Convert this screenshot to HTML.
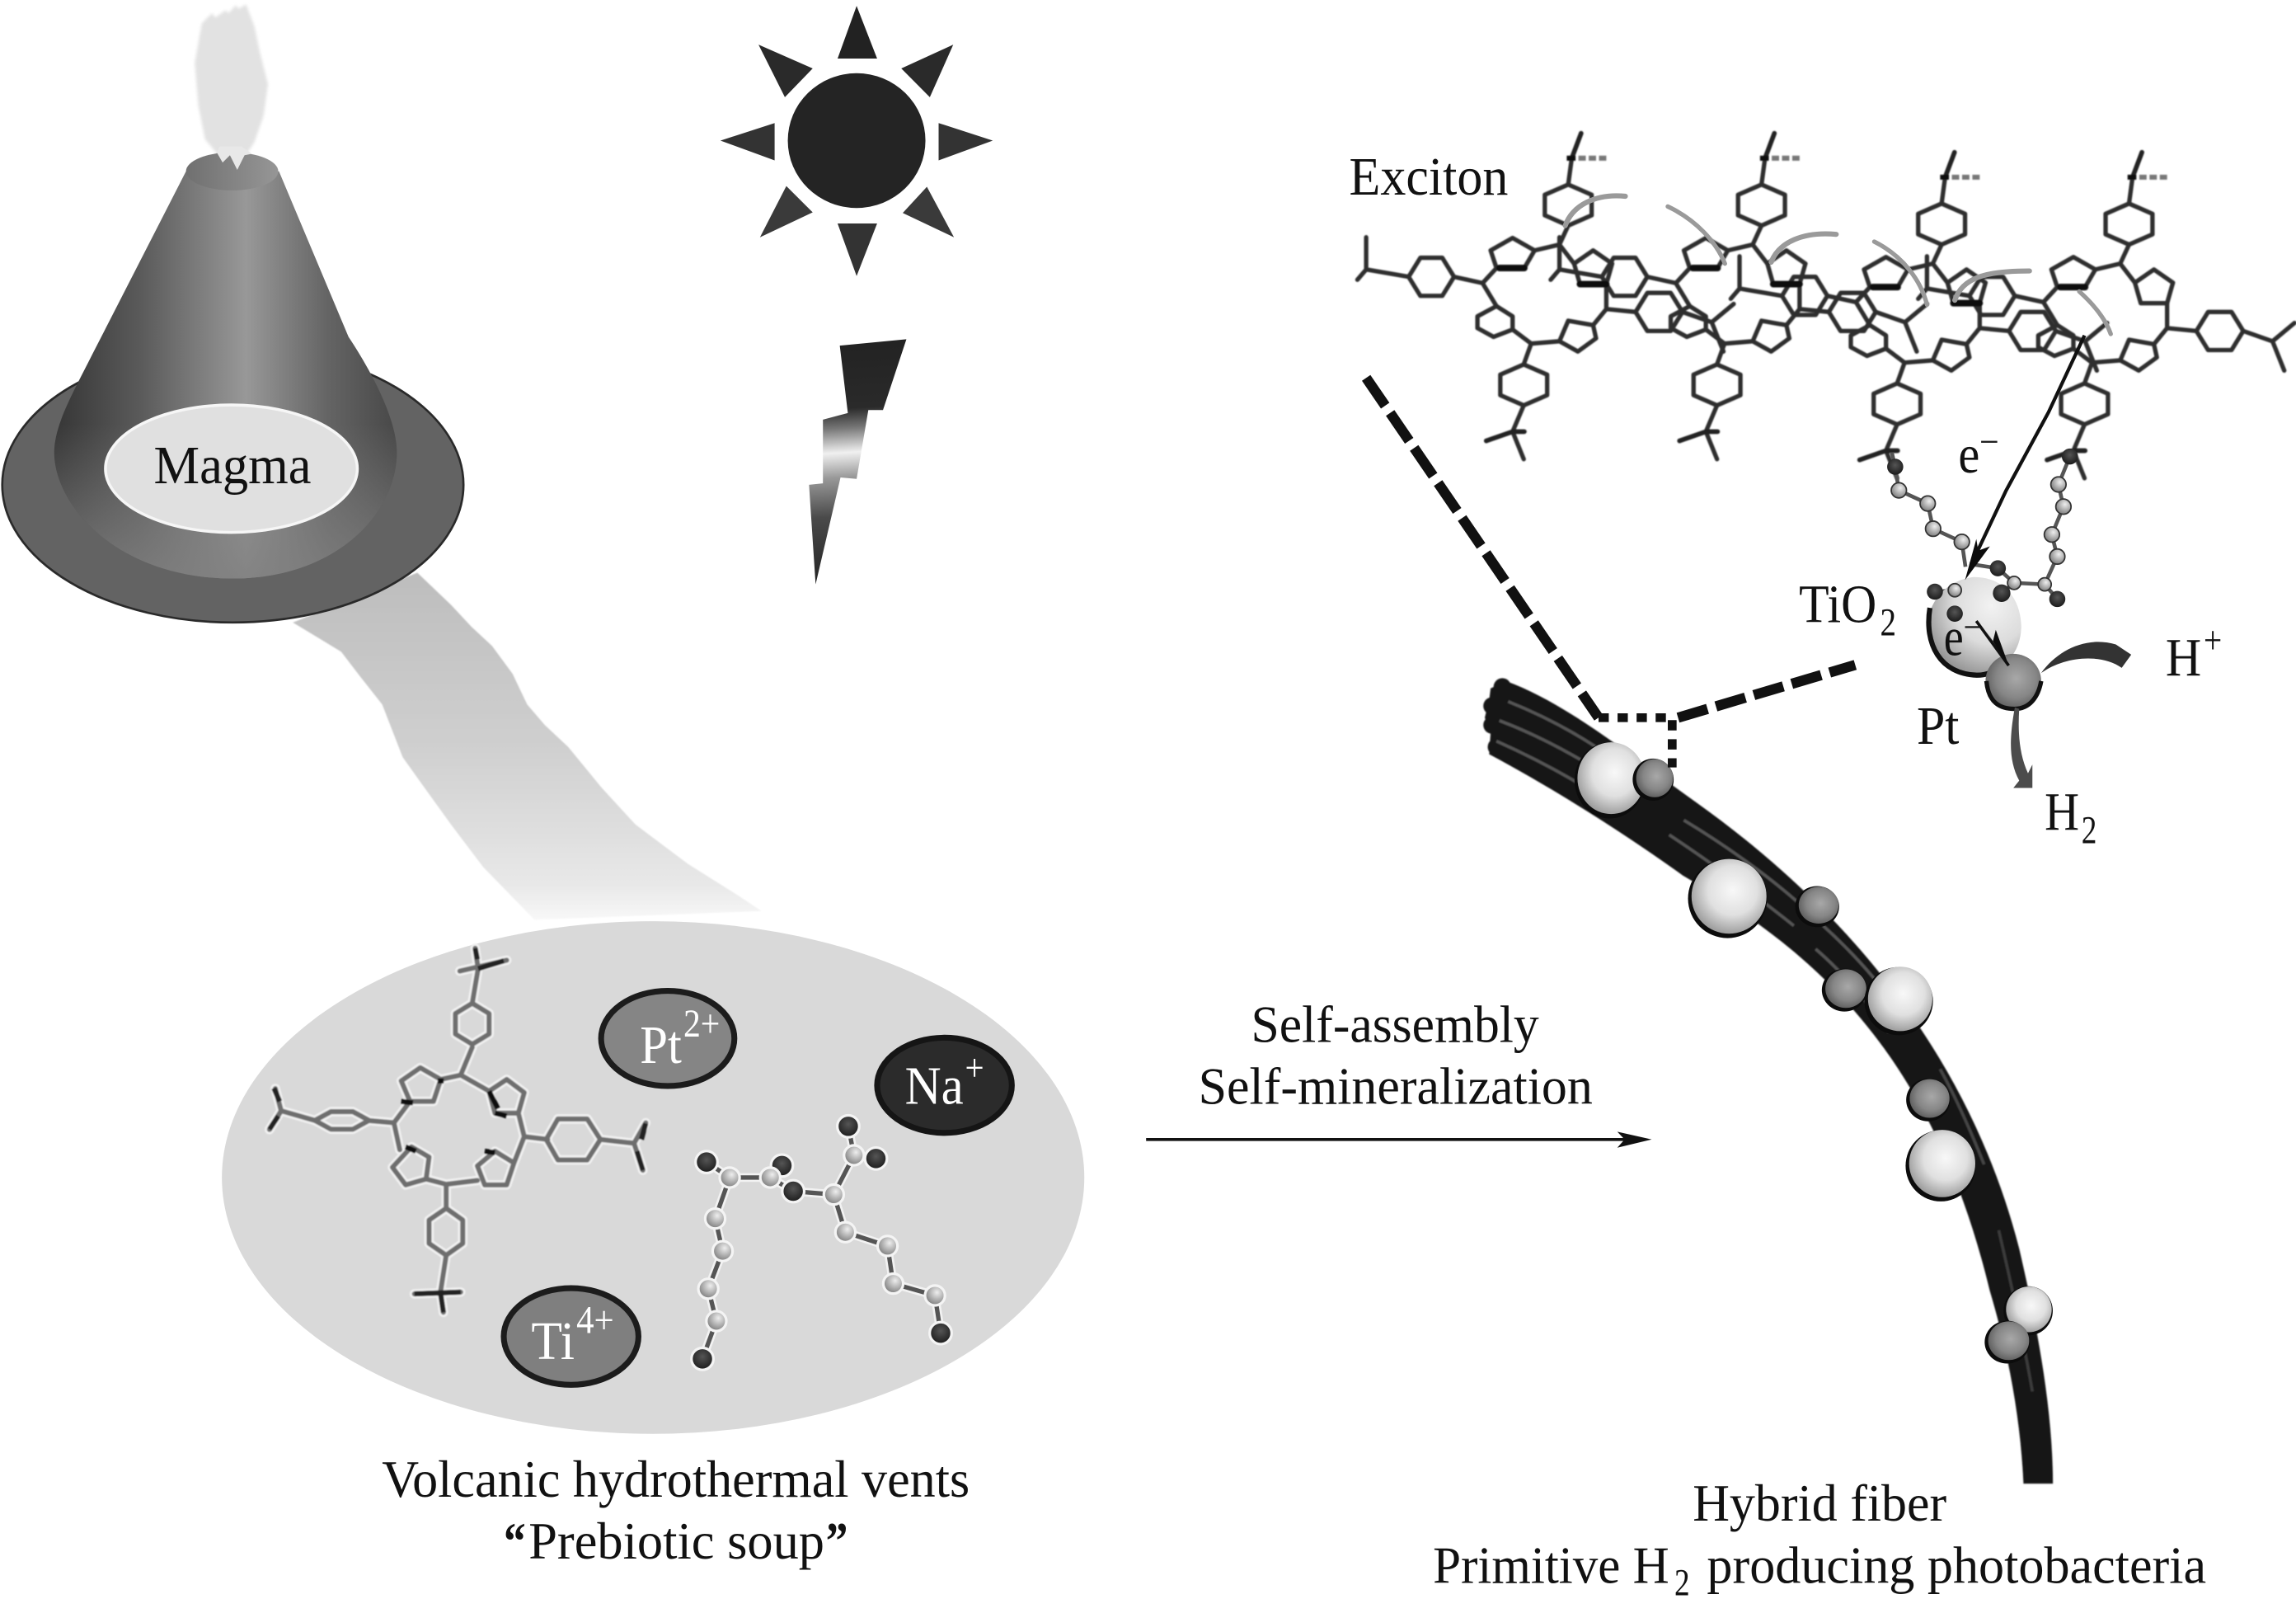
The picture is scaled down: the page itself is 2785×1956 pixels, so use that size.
<!DOCTYPE html>
<html><head><meta charset="utf-8"><title>Hybrid fiber diagram</title>
<style>html,body{margin:0;padding:0;background:#fff}svg{display:block}text{font-family:"Liberation Serif",serif;fill:#111}</style></head>
<body>
<svg xmlns="http://www.w3.org/2000/svg" width="2785" height="1956" viewBox="0 0 1568 1101.3">
<defs>
<filter id="soft" x="-5%" y="-5%" width="110%" height="110%"><feGaussianBlur stdDeviation="0.45"/></filter>
<filter id="soft2" x="-5%" y="-5%" width="110%" height="110%"><feGaussianBlur stdDeviation="1"/></filter>
<linearGradient id="cone" x1="0" x2="1" y1="0" y2="0"><stop offset="0" stop-color="#363636"/><stop offset=".25" stop-color="#5a5a5a"/><stop offset=".56" stop-color="#989898"/><stop offset=".8" stop-color="#646464"/><stop offset="1" stop-color="#484848"/></linearGradient>
<linearGradient id="hem" x1="0" x2="0" y1="0" y2="1"><stop offset="0" stop-color="#808080" stop-opacity="0"/><stop offset=".62" stop-color="#808080" stop-opacity="0"/><stop offset="1" stop-color="#808080" stop-opacity=".85"/></linearGradient>
<linearGradient id="top" x1="0" x2="1" y1="0" y2="0"><stop offset="0" stop-color="#707070"/><stop offset="1" stop-color="#969696"/></linearGradient>
<linearGradient id="stream" x1="0" x2="0" y1="0" y2="1"><stop offset="0" stop-color="#bdbdbd"/><stop offset=".5" stop-color="#cfcfcf"/><stop offset=".9" stop-color="#e8e8e8"/><stop offset="1" stop-color="#f8f8f8"/></linearGradient>
<linearGradient id="bolt" gradientUnits="userSpaceOnUse" x1="575" x2="585" y1="232" y2="399"><stop offset="0" stop-color="#222"/><stop offset=".28" stop-color="#2a2a2a"/><stop offset=".36" stop-color="#777"/><stop offset=".46" stop-color="#f0f0f0"/><stop offset=".56" stop-color="#999"/><stop offset=".72" stop-color="#4a4a4a"/><stop offset="1" stop-color="#222"/></linearGradient>
<radialGradient id="w" cx=".55" cy=".42" r=".6"><stop offset="0" stop-color="#f8f8f8"/><stop offset=".55" stop-color="#e0e0e0"/><stop offset="1" stop-color="#9a9a9a"/></radialGradient>
<radialGradient id="g" cx=".55" cy=".45" r=".6"><stop offset="0" stop-color="#a8a8a8"/><stop offset=".6" stop-color="#868686"/><stop offset="1" stop-color="#5a5a5a"/></radialGradient>
<radialGradient id="ti" cx=".68" cy=".3" r=".8"><stop offset="0" stop-color="#f2f2f2"/><stop offset=".5" stop-color="#dcdcdc"/><stop offset="1" stop-color="#8a8a8a"/></radialGradient>
<radialGradient id="s" cx=".6" cy=".35" r=".7"><stop offset="0" stop-color="#eee"/><stop offset="1" stop-color="#777"/></radialGradient>
<radialGradient id="d" cx=".5" cy=".4" r=".7"><stop offset="0" stop-color="#555"/><stop offset="1" stop-color="#111"/></radialGradient>

<g id="p" fill="none" stroke-linejoin="round" stroke-linecap="round">
<polygon points="16,-74 32,-67 32,-53 16,-46 0,-53 0,-67"/>
<polygon points="-14.4,48.8 1.6,55.8 1.6,69.8 -14.4,76.8 -30.4,69.8 -30.4,55.8"/>
<polygon points="-93,-11 -85,-24 -70,-24 -62,-11 -70,2 -85,2"/>
<polygon points="62,13 70,0 86,0 94,13 86,26 70,26"/>
<polygon points="-22,-37.5 -7,-29 -14,-17 -33,-17 -37,-29"/>
<polygon points="33,-29 46,-20 42,-6 24,-6 20,-20"/>
<polygon points="-33,9 -22,16 -22,25 -35,30 -46,24 -46,16"/>
<polygon points="16,19 33,22 35,31 22.6,40 10,33"/>
<path d="M-7,-29L10,-33L20,-20M10,-33L16,-46M-33,-17L-42.5,-6.7L-33,9M-42.5,-6.7L-62,-11M-22,25L-9.3,34.6L10,33M-9.3,34.6L-14.4,48.8M42,-6L42,11L33,22M42,11L62,13"/>
<path d="M16,-74L18.4,-92L24.8,-109M-93,-11L-122,-16L-122,-38M-122,-16L-128,-9M-14.4,76.8L-22,94.7L-14.4,113.5M-40,101L-22,94.7L-14,94.7M94,13L114,20L129,7.5M114,20L122,40"/>
</g>
<g id="soup" fill="none" stroke-linejoin="round" stroke-linecap="round">
<polygon points="287,729 301,737 296,752 280,752 274,738"/>
<polygon points="346,737 358,746 354,760 338,760 334,745"/>
<polygon points="281,783 293,790 291,805 277,809 268,797"/>
<polygon points="338,786 351,794 346,809 331,809 326,796"/>
<path d="M301,737L314.6,734L334,745M314.6,734L322.5,715M280,752L269,766.6L273,785M269,766.6L251,765M354,760L358,776L351,794M358,776L374,778M291,805L304.7,808.6L326,806M304.7,808.6L304.7,824"/>
<polygon points="322.5,685 334,692 334,706 322.5,713 311,706 311,692"/>
<polygon points="215,765 226,759 241,759 252,765 241,771 226,771"/>
<polygon points="373,778 381,764 401,764 410,778 401,792 381,792"/>
<polygon points="304.7,825 316,833 316,849 304.7,857 293,849 293,833"/>
<path d="M322.5,685L326.5,661.4L324.5,647.4M314,663L346,655.6M215,765L192,758.4L188,743.2M192,758.4L184,771.2M410,778L433,780.6L441,766.6M433,780.6L439,799M304.7,857L300.8,882.2L302.8,896M283,883.4L314.6,882.2"/>
</g>
</defs>

<!-- stream -->
<path d="M200,425 L233,445 L246,462 L261,481 L275,517 L290,538 L308,563 L330,592 L365,628 L520,622 L505,612 L470,590 L434,563 L411,538 L388,510 L372,495 L360,481 L350,460 L336,441 L322,428 L308,413 L285,391 Z" fill="url(#stream)" filter="url(#soft)"/>

<!-- smoke -->
<path d="M137.8,16L144.8,9L147,12L154,7L156,9L161,3.6L163,6L168,3L173.7,18L177.5,36L183,57.4L180,79L173.7,97L168,106L163.5,115.6L157.8,106L150.4,107.7L140,95L135.4,72L133,43Z" fill="#e2e2e2" filter="url(#soft2)"/>

<!-- volcano -->
<ellipse cx="159" cy="331" rx="157.5" ry="94" fill="#636363" stroke="#2a2a2a" stroke-width="1.5"/>
<path id="cp" d="M127,117 L63,242 C50,268 37,290 37,309 C37,345 80,395 159,395 C230,395 271,350 271,309 C271,285 252,251 238,230 L190.5,117 Z" fill="url(#cone)"/>
<path d="M127,117 L63,242 C50,268 37,290 37,309 C37,345 80,395 159,395 C230,395 271,350 271,309 C271,285 252,251 238,230 L190.5,117 Z" fill="url(#hem)"/>
<ellipse cx="158.5" cy="117" rx="31.5" ry="13" fill="url(#top)"/>
<path d="M148,104L152,111L157,106L162,116L167,106L172,105L165,100L150,100Z" fill="#e8e8e8"/>
<ellipse cx="158" cy="320" rx="86" ry="43.5" fill="#e0e0e0" stroke="#f6f6f6" stroke-width="2"/>
<text x="105" y="330" font-size="37" textLength="107.5" lengthAdjust="spacingAndGlyphs">Magma</text>

<!-- sun -->
<ellipse cx="585" cy="96" rx="47" ry="46" fill="#242424"/>
<g fill="#222">
<polygon points="585,4 572,40 599,40"/>
<polygon points="585,188.5 572,152.6 599,152.6" fill="#333"/>
<polygon points="492,96 529,84 529,109.5" fill="#333"/>
<polygon points="678,96 641,84 641,109.5" fill="#333"/>
<polygon points="518,30.5 555,46.7 536,66.4" fill="#2a2a2a"/>
<polygon points="651,30.5 615.5,46.7 635,66.4" fill="#2a2a2a"/>
<polygon points="519,162 537,127 555,145" fill="#3a3a3a"/>
<polygon points="651.5,162 633,127.5 616.5,145.4" fill="#3a3a3a"/>
</g>
<!-- lightning -->
<polygon points="573.5,236 619,231.6 603,280 593,280 585,327 574,326 557,399 552.5,331 562,330 562,286.5 579,282" fill="url(#bolt)"/>

<!-- soup ellipse -->
<ellipse cx="446" cy="804" rx="294.5" ry="175" fill="#d9d9d9"/>
<g filter="url(#soft)">
<use href="#soup" stroke="#f2f2f2" stroke-width="6.5"/>
<use href="#soup" stroke="#6e6e6e" stroke-width="3.4"/>
<path d="M274,752L282,753M338,760L346,762M277,783L284,786M331,786L338,787M299,738L303,738M334,745L340,757" stroke="#111" stroke-width="3.5" fill="none"/>
<path d="M324.5,647.4L326,655M326.5,661.4L344,656M187,743L191,752M184,771L190,762M441,767L438,778M439,799L435,786M283,883.4L314.6,882.2M302.8,896L301,884" stroke="#222" stroke-width="3.5" fill="none"/>
</g>

<!-- chains soup -->
<g fill="none" stroke-linecap="round">
<g stroke="#f2f2f2" stroke-width="6"><path d="M482.5,793.4L498.3,804L526,804L534,795.8M526,804L541.7,813.3L569.4,815.6L583.2,788.8L579.3,769M583.2,788.8L598.2,791M498.3,804L488.4,832L493.5,854.2L483.7,879.9L489.2,902L479.7,927.8M569.4,815.6L577.3,841.3L606.1,850.7L610,876.4L638.5,884.5L642.4,910.2"/></g>
<g stroke="#555" stroke-width="3"><path d="M482.5,793.4L498.3,804L526,804L534,795.8M526,804L541.7,813.3L569.4,815.6L583.2,788.8L579.3,769M583.2,788.8L598.2,791M498.3,804L488.4,832L493.5,854.2L483.7,879.9L489.2,902L479.7,927.8M569.4,815.6L577.3,841.3L606.1,850.7L610,876.4L638.5,884.5L642.4,910.2"/></g>
</g>
<g stroke="#f4f4f4" stroke-width="1.8">
<g fill="url(#d)">
<circle cx="482.5" cy="793.4" r="7.5"/><circle cx="534" cy="795.8" r="7.5"/><circle cx="541.7" cy="813.3" r="7.5"/><circle cx="579.3" cy="769" r="7.5"/><circle cx="598.2" cy="791" r="7.5"/><circle cx="479.7" cy="927.8" r="7.5"/><circle cx="642.4" cy="910.2" r="7.5"/>
</g>
<g fill="url(#s)">
<circle cx="498.3" cy="804" r="6.8"/><circle cx="526" cy="804" r="6.8"/><circle cx="569.4" cy="815.6" r="6.8"/><circle cx="583.2" cy="788.8" r="6.8"/><circle cx="488.4" cy="832" r="6.8"/><circle cx="493.5" cy="854.2" r="6.8"/><circle cx="483.7" cy="879.9" r="6.8"/><circle cx="489.2" cy="902" r="6.8"/><circle cx="577.3" cy="841.3" r="6.8"/><circle cx="606.1" cy="850.7" r="6.8"/><circle cx="610" cy="876.4" r="6.8"/><circle cx="638.5" cy="884.5" r="6.8"/>
</g>
</g>

<!-- ions -->
<ellipse cx="456" cy="709" rx="45.5" ry="32.5" fill="#858585" stroke="#1c1c1c" stroke-width="4"/>
<ellipse cx="645" cy="741" rx="46" ry="32.5" fill="#2b2b2b" stroke="#151515" stroke-width="4"/>
<ellipse cx="390" cy="912.5" rx="46" ry="33" fill="#7f7f7f" stroke="#1c1c1c" stroke-width="4"/>
<text x="437" y="725.7" font-size="37" textLength="28.5" lengthAdjust="spacingAndGlyphs" style="fill:#fff">Pt</text>
<text x="466.7" y="707.7" font-size="27" textLength="25" lengthAdjust="spacingAndGlyphs" style="fill:#fff">2+</text>
<text x="618" y="753.7" font-size="37" textLength="40" lengthAdjust="spacingAndGlyphs" style="fill:#fff">Na</text>
<text x="659" y="738" font-size="26" textLength="13" lengthAdjust="spacingAndGlyphs" style="fill:#fff">+</text>
<text x="362.8" y="927.8" font-size="37" textLength="29.6" lengthAdjust="spacingAndGlyphs" style="fill:#fff">Ti</text>
<text x="393.6" y="910.2" font-size="27" textLength="25.7" lengthAdjust="spacingAndGlyphs" style="fill:#fff">4+</text>

<!-- bottom-left labels -->
<text x="260.8" y="1022" font-size="36" textLength="401.4" lengthAdjust="spacingAndGlyphs">Volcanic hydrothermal vents</text>
<text x="344" y="1064.2" font-size="36" font-weight="bold" textLength="15" lengthAdjust="spacingAndGlyphs">“</text>
<text x="361" y="1064.2" font-size="36" textLength="202" lengthAdjust="spacingAndGlyphs">Prebiotic soup</text>
<text x="564" y="1064.2" font-size="36" font-weight="bold" textLength="15" lengthAdjust="spacingAndGlyphs">”</text>

<!-- arrow middle -->
<text x="854.4" y="711.3" font-size="36" textLength="196.6" lengthAdjust="spacingAndGlyphs">Self-assembly</text>
<text x="818.4" y="753.5" font-size="36" textLength="269.3" lengthAdjust="spacingAndGlyphs">Self-mineralization</text>
<line x1="782.7" y1="778" x2="1110" y2="778" stroke="#111" stroke-width="2"/>
<polygon points="1104.5,772.7 1128,778 1104.5,783.6 1109.5,778" fill="#111"/>

<!-- fiber -->
<g filter="url(#soft)">
<path d="M1028.5,465 C1070,480 1115,517 1157.8,547.4 C1260,620 1345,720 1379,852.6 C1390,900 1402,960 1402,1013 L1381.9,1013 C1380,970 1372,925 1358.9,881.3 C1320,720 1240,650 1149.2,597.7 C1105,566 1060,538 1017,515 L1018,500 L1014,490 L1017,478 L1018,470 Z" fill="#161616"/>
<circle cx="1026" cy="469" r="6" fill="#161616"/><circle cx="1019" cy="482" r="6" fill="#161616"/><circle cx="1019" cy="495" r="6" fill="#161616"/><circle cx="1022" cy="510" r="6" fill="#161616"/>
<g fill="none" stroke="#555" stroke-width="2">
<path d="M1030,479 C1050,487 1070,497 1090,510"/>
<path d="M1024,492 C1045,500 1065,510 1085,522"/>
<path d="M1022,506 C1040,514 1060,524 1080,536"/>
<path d="M1150,560 C1180,578 1210,600 1230,618"/>
<path d="M1140,570 C1170,590 1200,612 1225,632"/>
<path d="M1245,632 C1265,650 1285,672 1300,695"/>
<path d="M1240,648 C1260,665 1280,690 1290,705"/>
<path d="M1325,730 C1335,748 1345,770 1355,795" stroke="#444"/>
<path d="M1365,840 C1372,870 1380,905 1388,950" stroke="#3a3a3a"/>
</g>
</g>
<g>
<ellipse cx="1099.3" cy="532.8" rx="24" ry="26" fill="#0c0c0c"/><ellipse cx="1100.3" cy="531.3" rx="23" ry="24.5" fill="url(#w)"/>
<ellipse cx="1129" cy="532.3" rx="14" ry="14.4" fill="#0c0c0c"/><ellipse cx="1130" cy="531.3" rx="12.6" ry="13" fill="url(#g)"/>
<ellipse cx="1179.8" cy="613.5" rx="27" ry="27" fill="#0c0c0c"/><ellipse cx="1180.8" cy="612" rx="25.6" ry="25.5" fill="url(#w)"/>
<ellipse cx="1241" cy="619" rx="15" ry="14" fill="#0c0c0c"/><ellipse cx="1242" cy="618" rx="13.6" ry="12.6" fill="url(#g)"/>
<ellipse cx="1259.6" cy="676" rx="15.4" ry="14.6" fill="#0c0c0c"/><ellipse cx="1260.6" cy="675" rx="14" ry="13.2" fill="url(#g)"/>
<ellipse cx="1296.7" cy="683.5" rx="23.4" ry="23.3" fill="#0c0c0c"/><ellipse cx="1297.7" cy="682" rx="22" ry="22" fill="url(#w)"/>
<ellipse cx="1316.8" cy="751" rx="15" ry="14.6" fill="#0c0c0c"/><ellipse cx="1317.8" cy="750" rx="13.6" ry="13.2" fill="url(#g)"/>
<ellipse cx="1325.4" cy="796" rx="24" ry="24.3" fill="#0c0c0c"/><ellipse cx="1326.4" cy="794.4" rx="22.6" ry="23" fill="url(#w)"/>
<ellipse cx="1385.1" cy="895" rx="16.8" ry="16.8" fill="#0c0c0c"/><ellipse cx="1385.6" cy="894" rx="15.6" ry="15.6" fill="url(#w)"/>
<ellipse cx="1370.8" cy="916.4" rx="15.4" ry="14.6" fill="#0c0c0c"/><ellipse cx="1371.8" cy="915.4" rx="14" ry="13.2" fill="url(#g)"/>
</g>

<!-- dashes -->
<line x1="933" y1="258" x2="1091.7" y2="490" stroke="#111" stroke-width="7" stroke-dasharray="23 6"/>
<path d="M1091.7,490L1142,490L1142,524" fill="none" stroke="#111" stroke-width="6" stroke-dasharray="7 6"/>
<line x1="1146" y1="490" x2="1267" y2="454" stroke="#111" stroke-width="7" stroke-dasharray="21 6"/>

<!-- porphyrin array -->
<g filter="url(#soft)">
<g stroke="#2e2e2e" stroke-width="3">
<use href="#p" x="1055" y="200"/>
<use href="#p" x="1187" y="200"/>
<use href="#p" x="1310" y="213"/>
<use href="#p" x="1438" y="213"/>
</g>
<g fill="none" stroke="#111" stroke-width="4.5" stroke-linecap="round">
<path d="M1041,183L1024,183M1173,183L1156,183M1296,196L1279,196M1424,196L1407,196"/>
<path d="M1097,194L1079,194M1229,194L1211,194M1352,207L1334,207"/>
</g>
<g fill="none" stroke="#222" stroke-width="3.2" stroke-linecap="round">
<path d="M1073.4,108L1079.8,91M1205.4,108L1211.8,91M1328.4,121L1334.8,104M1456.4,121L1462.8,104"/>
<path d="M1033,294.7L1015,301M1033,294.7L1041,294.7M1165,294.7L1147,301M1165,294.7L1173,294.7M1288,307.7L1270,314M1288,307.7L1296,307.7M1416,307.7L1398,314M1416,307.7L1424,307.7"/>
</g>
<g fill="none" stroke-width="3.4">
<path d="M1070,108L1076,108M1202,108L1208,108M1325,121L1331,121M1453,121L1459,121" stroke="#111"/>
<path d="M1078,108L1097,108M1210,108L1229,108M1333,121L1352,121M1461,121L1480,121" stroke="#777" stroke-dasharray="5 2"/>
</g>
</g>

<!-- exciton curved arrows -->
<g fill="none" stroke="#9a9a9a" stroke-linecap="round">
<path d="M1069,154 C1074,140 1090,132 1110,134" stroke-width="3.5"/>
<path d="M1139,141 C1158,150 1172,165 1178,180" stroke-width="3"/>
<path d="M1209.6,179 C1215,165 1232,158 1254,160" stroke-width="3.5"/>
<path d="M1280,165 C1300,175 1312,192 1316,208" stroke-width="3"/>
<path d="M1335,205 C1340,190 1355,185 1386,185" stroke-width="3.5"/>
<path d="M1420,199 C1430,208 1438,218 1441.5,228" stroke-width="3"/>
</g>

<text x="921.4" y="133" font-size="37" textLength="108.6" lengthAdjust="spacingAndGlyphs">Exciton</text>

<!-- linkers -->
<path d="M1292,309L1294.3,318.7L1296.8,334.8L1316.5,343.8L1320.2,361L1339.8,370L1342.3,387M1413.6,311.7L1405.8,330.8L1409.2,345.9L1401.3,365L1405,380L1396.4,399L1375.5,398L1367,405M1375.5,398L1364.4,388L1345,385M1396.4,399L1405,409M1321.4,404L1335,403L1335,419" fill="none" stroke="#555" stroke-width="2.6"/>

<!-- TiO2 and Pt -->
<path d="M1348,394 C1368,394 1380,408 1380.4,428 C1380,445 1370,458 1350,459.5 C1330,460 1316.5,445 1316.5,427 C1317,410 1330,396 1348,394Z" fill="url(#ti)"/>
<path d="M1318,415 C1314,440 1325,460 1350,461 C1358,461 1362,458 1366,455" fill="none" stroke="#111" stroke-width="3.5"/>
<ellipse cx="1375" cy="465" rx="19" ry="18.6" fill="url(#g)"/>
<path d="M1356.6,465 C1358,480 1366,484 1376,484 C1386,484 1392,476 1394,465" fill="none" stroke="#111" stroke-width="3"/>
<g fill="url(#d)" stroke="none">
<circle cx="1294.3" cy="318.7" r="5.5"/><circle cx="1413.6" cy="311.7" r="5.5"/><circle cx="1367" cy="405" r="6"/><circle cx="1364.4" cy="388" r="5.5"/><circle cx="1405" cy="409" r="5.5"/><circle cx="1321.4" cy="404" r="5.5"/><circle cx="1335" cy="419" r="5.5"/>
</g>
<g fill="url(#s)" stroke="#333" stroke-width="1">
<circle cx="1296.8" cy="334.8" r="5.2"/><circle cx="1316.5" cy="343.8" r="5.2"/><circle cx="1320.2" cy="361" r="5.2"/><circle cx="1339.8" cy="370" r="5.2"/><circle cx="1405.8" cy="330.8" r="5.2"/><circle cx="1409.2" cy="345.9" r="5.2"/><circle cx="1401.3" cy="365" r="5.2"/><circle cx="1405" cy="380" r="5.2"/><circle cx="1396.4" cy="399" r="4.5"/><circle cx="1375.5" cy="398" r="4.5"/><circle cx="1335" cy="403" r="4.5"/>
</g>

<!-- e- arrows -->
<path d="M1423.6,229 L1399,281.5 L1370,335 L1349.7,378" fill="none" stroke="#111" stroke-width="2.4"/>
<polygon points="1349.7,368 1351,376 1359,373 1342,396" fill="#0c0c0c"/>
<line x1="1349.7" y1="424" x2="1371.8" y2="454.4" stroke="#111" stroke-width="2"/>
<polygon points="1356,430 1361,438 1363,430 1371.8,454.4" fill="#0c0c0c"/>

<!-- H+ and H2 arrows -->
<path d="M1394,459.5 C1405,444 1425,434 1445,440 L1455.5,447 L1449,456 C1435,446 1410,448 1394,459.5Z" fill="#333"/>
<path d="M1376,483 C1372,505 1372,520 1379,533 L1375,538 L1388,538 L1388,522 L1385,528 C1379,515 1378,500 1379,484Z" fill="#4c4c4c"/>

<text x="1337.4" y="322.7" font-size="37" textLength="14.6" lengthAdjust="spacingAndGlyphs">e</text>
<rect x="1353" y="301" width="11" height="1.3" fill="#1a1a1a"/>
<text x="1327.5" y="447.4" font-size="37" textLength="13.5" lengthAdjust="spacingAndGlyphs">e</text>
<rect x="1342" y="427.5" width="10" height="1.3" fill="#1a1a1a"/>
<text x="1228.6" y="424.7" font-size="37" textLength="53" lengthAdjust="spacingAndGlyphs">TiO</text>
<text x="1284" y="433.7" font-size="27" textLength="11" lengthAdjust="spacingAndGlyphs">2</text>
<text x="1309" y="508" font-size="37" textLength="29" lengthAdjust="spacingAndGlyphs">Pt</text>
<text x="1479" y="461" font-size="37" textLength="24.4" lengthAdjust="spacingAndGlyphs">H</text>
<text x="1505" y="446" font-size="27" textLength="12.5" lengthAdjust="spacingAndGlyphs">+</text>
<text x="1396.4" y="566.5" font-size="37" textLength="23.6" lengthAdjust="spacingAndGlyphs">H</text>
<text x="1421.5" y="575.7" font-size="27" textLength="10.5" lengthAdjust="spacingAndGlyphs">2</text>

<!-- bottom-right labels -->
<text x="1156" y="1038.3" font-size="36" textLength="173.4" lengthAdjust="spacingAndGlyphs">Hybrid fiber</text>
<text x="978.6" y="1080.8" font-size="36" textLength="161.4" lengthAdjust="spacingAndGlyphs">Primitive H</text>
<text x="1143.5" y="1089.2" font-size="26" textLength="10.5" lengthAdjust="spacingAndGlyphs">2</text>
<text x="1165.7" y="1080.8" font-size="36" textLength="341" lengthAdjust="spacingAndGlyphs">producing photobacteria</text>
</svg>
</body></html>
